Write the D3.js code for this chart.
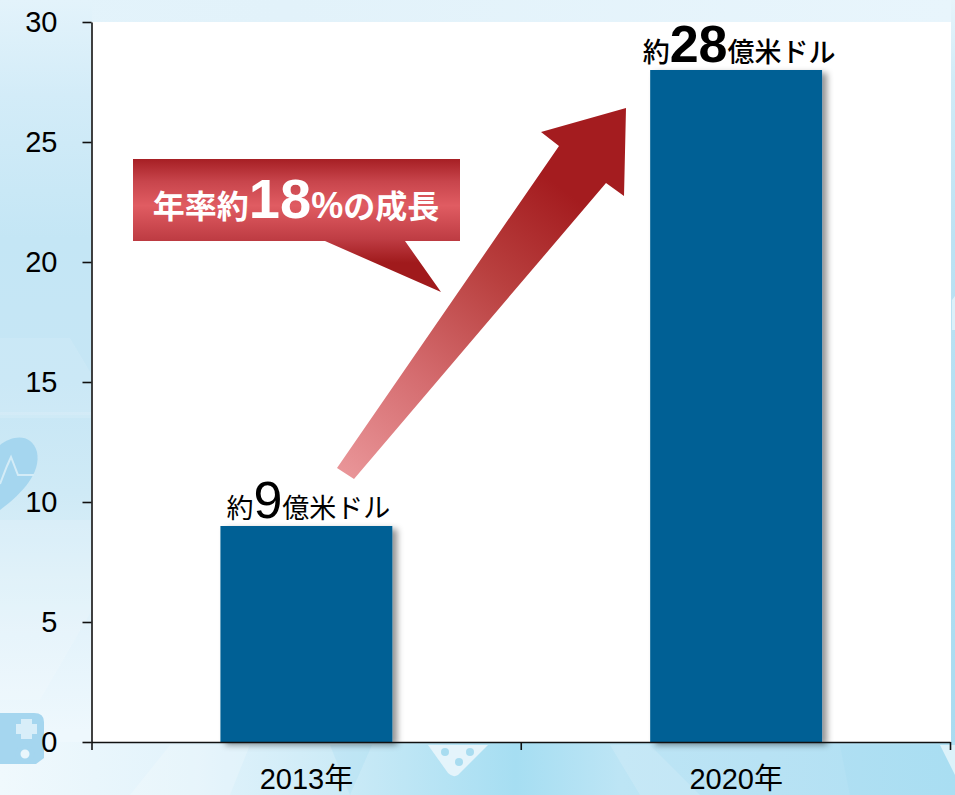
<!DOCTYPE html>
<html><head><meta charset="utf-8">
<script src="https://cdn.jsdelivr.net/npm/d3@7"></script>
<style>html,body{margin:0;padding:0;background:#fff}svg{display:block}
text{font-family:"Liberation Sans",Arial,sans-serif}</style></head>
<body><div id="c"></div>
<script>
const categories=["2013年","2020年"];
const values=[9,28];
const valueLabels=["9","28"];
const yTicks=[0,5,10,15,20,25,30];
const barColor="#006195";
const W=955,H=795,m={l:91.5,r:951,t:22,b:742};
const svg=d3.select("#c").append("svg").attr("width",W).attr("height",H);
const defs=svg.append("defs");
function grad(id,attrs,stops){const g=defs.append("linearGradient").attr("id",id).attr("gradientUnits","userSpaceOnUse");
  Object.entries(attrs).forEach(([k,v])=>g.attr(k,v));
  stops.forEach(s=>g.append("stop").attr("offset",s[0]).attr("stop-color",s[1]));}
grad("bgLeft",{x1:0,y1:0,x2:0,y2:795},[[0,"#e3f3fb"],[0.12,"#d3ecf8"],[0.3,"#c4e6f5"],[0.48,"#c6e6f5"],[0.62,"#cfeaf6"],[0.8,"#e4f3fb"],[0.92,"#eef8fd"],[1,"#eef8fd"]]);
grad("bgTop",{x1:0,y1:0,x2:955,y2:0},[[0,"#e3f3fb"],[0.3,"#e2f2fa"],[1,"#e8f5fc"]]);
grad("bgBottom",{x1:0,y1:0,x2:955,y2:0},[[0,"#f0f9fd"],[0.2,"#e2f3fb"],[0.35,"#cdebf7"],[0.54,"#a6def2"],[0.65,"#bde5f5"],[0.8,"#b8e2f4"],[1,"#aee0f3"]]);
grad("bgRight",{x1:0,y1:0,x2:0,y2:795},[[0,"#e6f4fb"],[0.1,"#d0ebf7"],[0.3,"#bce2f3"],[0.7,"#aedef2"],[1,"#a8dbf0"]]);
grad("arrowG",{x1:345,y1:474,x2:590,y2:160},[[0,"#e99598"],[0.3,"#d56d70"],[0.62,"#b9403f"],[0.9,"#a41c1f"],[1,"#a41c1f"]]);
grad("callG",{x1:0,y1:159,x2:0,y2:292},[[0,"#a61f24"],[0.17,"#c8454c"],[0.35,"#e05c62"],[0.6,"#bf3d44"],[0.78,"#a01a1c"],[1,"#a01a1c"]]);
const f=defs.append("filter").attr("id","sh").attr("x","-10%").attr("y","-5%").attr("width","125%").attr("height","112%");
f.append("feDropShadow").attr("dx",5).attr("dy",3).attr("stdDeviation",3).attr("flood-color","#000").attr("flood-opacity",0.42);

// background strips
svg.append("rect").attr("width",W).attr("height",H).attr("fill","url(#bgLeft)");
svg.append("rect").attr("x",92).attr("width",W-92).attr("height",22).attr("fill","url(#bgTop)");
svg.append("rect").attr("x",951).attr("width",4).attr("height",H).attr("fill","url(#bgRight)");
svg.append("rect").attr("y",742).attr("width",W).attr("height",53).attr("fill","url(#bgBottom)");
const facets=[["0,338 70,338 92,375 92,415 0,415","#fff",.1],["0,412 92,412 92,418 0,418","#fff",.12],
 ["0,520 90,520 92,610 40,700 0,700","#fff",.14],
 ["130,795 170,745 250,745 230,795","#fff",.2],["330,745 372,745 350,795","#8fd3ec",.18],
 ["610,745 650,745 700,795 640,795","#fff",.14],["840,745 955,745 955,795 850,795","#8fd3ec",.12],
 ["952,300 955,296 955,330 952,330","#fff",.5],["940,745 955,745 955,775","#fff",.6]];
svg.append("g").selectAll("polygon").data(facets).join("polygon")
  .attr("points",d=>d[0]).attr("fill",d=>d[1]).attr("opacity",d=>d[2]);
// decorative icons
svg.append("path").attr("d","M0,445 C14,434 32,434 37,452 C41,472 24,492 0,510 Z").attr("fill","#a5d6ef");
svg.append("path").attr("d","M0,484 L7,466 L11,457 L18,475 L34,475").attr("fill","none").attr("stroke","#d4ecf7").attr("stroke-width",2);
svg.append("path").attr("d","M0,713 H34 Q44,713 44,722 V758 L36,764 H0 Z").attr("fill","#a5d6ef");
svg.append("path").attr("d","M21,719 h11 v5 h5 v10 h-5 v5 h-11 v-5 h-5 v-10 h5 z").attr("fill","#d8eef9");
svg.append("circle").attr("cx",25).attr("cy",754).attr("r",7).attr("fill","#eaf6fc").attr("stroke","#a5d6ef").attr("stroke-width",5);
svg.append("path").attr("d","M428,745 H488 L458,775 Q453,778 448,773 Z").attr("fill","#e4f4fb");
svg.append("g").selectAll("circle").data([[445,752],[459,762],[470,752]]).join("circle")
  .attr("cx",d=>d[0]).attr("cy",d=>d[1]).attr("r",4).attr("fill","#a8dcf0");

// plot
svg.append("rect").attr("x",m.l).attr("y",m.t).attr("width",m.r-m.l).attr("height",m.b-m.t).attr("fill","#fff");
const x=d3.scaleBand().domain(categories).range([m.l,m.r]).paddingInner(0.6).paddingOuter(0.3);
const y=d3.scaleLinear().domain([0,30]).range([m.b,m.t]);
svg.append("g").selectAll("rect").data(values).join("rect")
  .attr("x",(d,i)=>x(categories[i])).attr("width",x.bandwidth())
  .attr("y",d=>y(d)).attr("height",d=>y(0)-y(d)).attr("fill",barColor).attr("filter","url(#sh)");

// axes
const ya=svg.append("g").attr("transform",`translate(${m.l},0)`).call(d3.axisLeft(y).tickValues(yTicks).tickSize(9).tickSizeOuter(0).tickPadding(25));
ya.selectAll("text").attr("font-size",29).attr("fill","#000").style("font-family",'"Liberation Sans"');
const xEdge=d3.scaleLinear().domain([0,categories.length]).range([m.l,m.r-1]);
svg.append("g").attr("transform",`translate(0,${m.b})`).call(d3.axisBottom(xEdge).tickValues(d3.range(categories.length+1)).tickSize(8).tickSizeOuter(0).tickFormat(""));
const xa=svg.append("g").attr("transform",`translate(0,${m.b})`).call(d3.axisBottom(x).tickSize(0).tickPadding(26));
xa.select(".domain").remove();
xa.selectAll("text").attr("font-size",29).attr("fill","#000").style("font-family",'"Liberation Sans","Noto Sans CJK JP"');
svg.selectAll(".domain,.tick line").attr("stroke","#111").attr("stroke-width",1.6);

// value labels
const cjk='"Noto Sans CJK JP"', lat='"Liberation Sans"';
function rich(cx,by,parts,fill,weight){
  const t=svg.append("text").attr("x",cx).attr("y",by).attr("text-anchor","middle").attr("fill",fill);
  parts.forEach(p=>t.append("tspan").text(p[0]).attr("font-size",p[1]).style("font-family",p[2]).attr("font-weight",p[3]||weight||"normal"));
  return t;}
values.forEach((v,i)=>{
  const cx=x(categories[i])+x.bandwidth()/2, w=i===1?"bold":"normal", cw=i===1?"500":"normal";
  rich(cx+(i===1?3:2),y(v)-8,[["約",27,cjk,cw],[valueLabels[i],52,lat,w],["億米ドル",27,cjk,cw]],"#000");
});

// growth annotation
svg.append("polygon").attr("points","337,468 559,146 541,132 626,108 624,196 606,183 354,479").attr("fill","url(#arrowG)");
svg.append("polygon").attr("points","133,159 460,159 460,241 405,241 441,292 325,241 133,241").attr("fill","url(#callG)");
rich(296,218,[["年率約",32,cjk],["18",56,lat],["%",36,lat],["の成長",32,cjk]],"#fff","bold");
</script></body></html>
